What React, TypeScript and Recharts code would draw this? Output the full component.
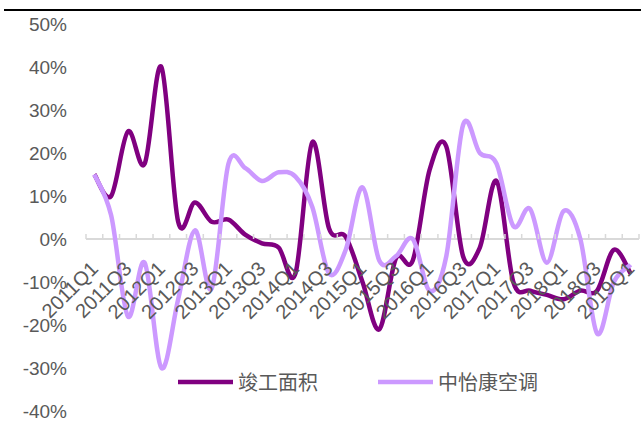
import { LineChart, Line, XAxis, YAxis, ReferenceLine, Legend } from 'recharts'

// quarterly categories
const quarters = [
  '2011Q1', '2011Q2', '2011Q3', '2011Q4',
  '2012Q1', '2012Q2', '2012Q3', '2012Q4',
  '2013Q1', '2013Q2', '2013Q3', '2013Q4',
  '2014Q1', '2014Q2', '2014Q3', '2014Q4',
  '2015Q1', '2015Q2', '2015Q3', '2015Q4',
  '2016Q1', '2016Q2', '2016Q3', '2016Q4',
  '2017Q1', '2017Q2', '2017Q3', '2017Q4',
  '2018Q1', '2018Q2', '2018Q3', '2018Q4',
  '2019Q1'
]

// 竣工面积 YoY, %
const completedArea = [
  15, 10, 25, 17.5, 40, 4, 8.5, 4, 4.5, 1, -1, -2, -8,
  22.5, 2.5, 0.5, -10, -21, -4.5, -5, 16, 21.5, -4, -2,
  13.5, -10, -12, -13, -14, -12, -12, -2.5, -8
]

// 中怡康空调 YoY, %
const airConditioner = [
  15, 5.5, -18, -5.5, -30, -14, 2, -11.5, 17.5, 16.5, 13.5, 15.5, 14.5,
  7.5, -8, -2.5, 12, -5, -4, 0, -12, -4, 26.5, 20, 17.5, 3, 7,
  -5.5, 6.5, 0, -22, -10, -6
]

const seriesNames = ['竣工面积', '中怡康空调']
const seriesColors = ['#800080', '#cc99ff']
const yTicks = [-40, -30, -20, -10, 0, 10, 20, 30, 40, 50]

const chartData = quarters.map((q, i) => ({
  quarter: q,
  completed: completedArea[i],
  aircon: airConditioner[i]
}))

const WIDTH = 641
const HEIGHT = 421
const MARGIN = { top: 24, right: 2, bottom: 0, left: 0 }
const Y_AXIS_W = 86
const X_AXIS_H = 10
const PLOT_W = WIDTH - MARGIN.left - MARGIN.right - Y_AXIS_W
const PLOT_H = HEIGHT - MARGIN.top - MARGIN.bottom - X_AXIS_H
const Y_MIN = yTicks[0]
const Y_MAX = yTicks[yTicks.length - 1]
// pixel row of the 0% line, where the category axis sits
const ZERO_Y = MARGIN.top + (PLOT_H * Y_MAX) / (Y_MAX - Y_MIN)
const STEP = PLOT_W / quarters.length

const FONT = '"Liberation Sans", Arial, "Noto Sans CJK SC", sans-serif'
const TEXT_COLOR = '#595959'
const AXIS_COLOR = '#d9d9d9'

// Excel-style smoothed line (Catmull-Rom through every point)
function smoothCurve(context: any) {
  let pts: number[][] = []
  return {
    areaStart() {},
    areaEnd() {},
    lineStart() {
      pts = []
    },
    point(x: number, y: number) {
      pts.push([+x, +y])
    },
    lineEnd() {
      if (!pts.length) return
      context.moveTo(pts[0][0], pts[0][1])
      for (let i = 0; i < pts.length - 1; i++) {
        const p0 = pts[i - 1] || pts[i]
        const p1 = pts[i]
        const p2 = pts[i + 1]
        const p3 = pts[i + 2] || p2
        context.bezierCurveTo(
          p1[0] + (p2[0] - p0[0]) / 6,
          p1[1] + (p2[1] - p0[1]) / 6,
          p2[0] - (p3[0] - p1[0]) / 6,
          p2[1] - (p3[1] - p1[1]) / 6,
          p2[0],
          p2[1]
        )
      }
    }
  }
}

const QuarterTick = (props: any) => {
  const { x, payload } = props
  const i = props.index ?? quarters.indexOf(payload.value)
  const lx = x + 5
  const ly = ZERO_Y + 31
  return (
    <g>
      <line x1={x - STEP / 2} x2={x - STEP / 2} y1={ZERO_Y - 5} y2={ZERO_Y} stroke={AXIS_COLOR} strokeWidth={1.5} />
      {i === quarters.length - 1 && (
        <line x1={x + STEP / 2} x2={x + STEP / 2} y1={ZERO_Y - 5} y2={ZERO_Y} stroke={AXIS_COLOR} strokeWidth={1.5} />
      )}
      {i % 2 === 0 && (
        <text
          x={lx}
          y={ly}
          transform={`rotate(-45 ${lx} ${ly})`}
          textAnchor="end"
          fill={TEXT_COLOR}
          fontSize={20}
          fontFamily={FONT}
        >
          {payload.value}
        </text>
      )}
    </g>
  )
}

const LegendContent = ({ payload }: any) => {
  const items = [...(payload || [])].sort(
    (a: any, b: any) => seriesNames.indexOf(a.value) - seriesNames.indexOf(b.value)
  )
  return (
    <div
      style={{
        display: 'flex',
        paddingLeft: 178,
        gap: 60,
        fontFamily: '"Noto Sans CJK SC", sans-serif',
        fontSize: 20,
        lineHeight: '24px',
        color: TEXT_COLOR
      }}
    >
      {items.map((entry: any) => (
        <div key={entry.value} style={{ display: 'flex', alignItems: 'center' }}>
          <svg width={55} height={10}>
            <line x1={0} x2={55} y1={5} y2={5} stroke={entry.color} strokeWidth={4.5} />
          </svg>
          <span style={{ marginLeft: 5 }}>{entry.value}</span>
        </div>
      ))}
    </div>
  )
}

export default function App() {
  return (
    <div style={{ position: 'relative', width: WIDTH, height: HEIGHT, background: '#fff' }}>
      <style>{'body { margin: 0; }'}</style>
      <div style={{ position: 'absolute', left: 4, right: 0, top: 9, height: 2, background: '#000' }} />
      <LineChart width={WIDTH} height={HEIGHT} data={chartData} margin={MARGIN}>
        <XAxis
          dataKey="quarter"
          scale="band"
          interval={0}
          height={X_AXIS_H}
          axisLine={false}
          tickLine={false}
          tick={<QuarterTick />}
        />
        <YAxis
          domain={[Y_MIN, Y_MAX]}
          ticks={yTicks}
          interval={0}
          width={Y_AXIS_W}
          axisLine={false}
          tickLine={false}
          tickSize={6}
          tickMargin={13}
          tickFormatter={(v: number) => `${v}%`}
          tick={{ fill: TEXT_COLOR, fontSize: 19, fontFamily: FONT }}
        />
        <ReferenceLine y={0} stroke={AXIS_COLOR} strokeWidth={2} />
        <Line
          dataKey="completed"
          name={seriesNames[0]}
          type={smoothCurve as any}
          stroke={seriesColors[0]}
          strokeWidth={4.5}
          dot={false}
          activeDot={false}
          isAnimationActive={false}
        />
        <Line
          dataKey="aircon"
          name={seriesNames[1]}
          type={smoothCurve as any}
          stroke={seriesColors[1]}
          strokeWidth={4.5}
          dot={false}
          activeDot={false}
          isAnimationActive={false}
        />
        <Legend
          layout="horizontal"
          verticalAlign="middle"
          align="center"
          wrapperStyle={{ left: 0, top: 370, width: WIDTH }}
          content={<LegendContent />}
        />
      </LineChart>
    </div>
  )
}
